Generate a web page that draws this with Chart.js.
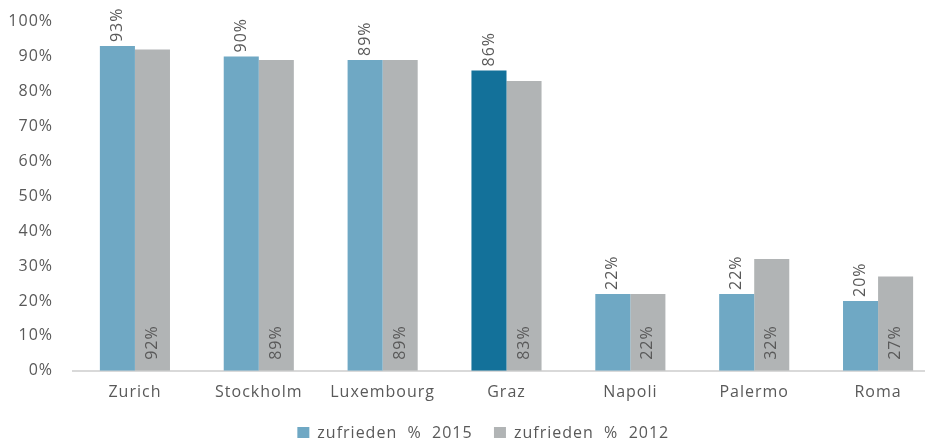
<!DOCTYPE html>
<html>
<head>
<meta charset="utf-8">
<script src="https://cdn.jsdelivr.net/npm/chart.js@4"></script>
<style>
  html, body { margin: 0; padding: 0; background: #fff; overflow: hidden; }
  #wrap { position: relative; width: 925px; height: 438px; overflow: hidden; }
  #myChart { position: absolute; left: 0; top: -8px; }
</style>
</head>
<body>
<div id="wrap"><canvas id="myChart"></canvas></div>
<script>
//* datos del gráfico
const staedte = ["Zurich", "Stockholm", "Luxembourg", "Graz", "Napoli", "Palermo", "Roma"];
const werte2015 = [93, 90, 89, 86, 22, 22, 20];
const werte2012 = [92, 89, 89, 83, 22, 32, 27];
const yTicks = [0, 10, 20, 30, 40, 50, 60, 70, 80, 90, 100];

const blau = "#6fa8c4";
const blauGraz = "#13719a";
const grau = "#b1b4b5";
const textFarbe = "#595959";
const schrift = "'Open Sans', sans-serif";
const abstand = "1px";

//* plugin: espaciado de letras como en el original
const espaciado = {
  id: "espaciado",
  beforeLayout(chart) { chart.ctx.letterSpacing = abstand; },
  beforeDraw(chart) { chart.ctx.letterSpacing = abstand; }
};

//* plugin para las etiquetas giradas
const etiquetas = {
  id: "etiquetas",
  afterDatasetsDraw(chart) {
    const ctx = chart.ctx;
    ctx.save();
    ctx.fillStyle = textFarbe;
    ctx.font = "16px " + schrift;
    ctx.textBaseline = "middle";
    ctx.textAlign = "left";
    chart.data.datasets.forEach((ds, i) => {
      const meta = chart.getDatasetMeta(i);
      meta.data.forEach((bar, j) => {
        const txt = ds.data[j] + "%";
        ctx.save();
        if (i === 0) {
          ctx.translate(bar.x, bar.y - 4);
        } else {
          ctx.translate(bar.x, bar.base - 11);
        }
        ctx.rotate(-Math.PI / 2);
        ctx.fillText(txt, 0, 0);
        ctx.restore();
      });
    });
    ctx.restore();
  }
};

//* espacios al final de cada leyenda (para colocarla como en el original)
const legendeLuecke = ["  ", "         "];

const config = {
  type: "bar",
  data: {
    labels: staedte,
    datasets: [
      {
        label: "zufrieden  %  2015",
        data: werte2015,
        backgroundColor: staedte.map((s) => (s === "Graz" ? blauGraz : blau)),
        barPercentage: 1,
        categoryPercentage: 0.566
      },
      {
        label: "zufrieden  %  2012",
        data: werte2012,
        backgroundColor: grau,
        barPercentage: 1,
        categoryPercentage: 0.566
      }
    ]
  },
  options: {
    responsive: false,
    animation: false,
    layout: { padding: { top: 0, left: 0, right: 0, bottom: 0 } },
    plugins: {
      legend: {
        position: "bottom",
        fullSize: false,
        labels: {
          color: textFarbe,
          font: { size: 16, family: schrift },
          boxWidth: 12,
          boxHeight: 12,
          padding: 11,
          generateLabels(chart) {
            return chart.data.datasets.map((ds, i) => ({
              text: ds.label + legendeLuecke[i],
              fillStyle: i === 0 ? blau : grau,
              strokeStyle: "transparent",
              lineWidth: 0,
              fontColor: textFarbe,
              datasetIndex: i
            }));
          }
        }
      },
      tooltip: { enabled: false }
    },
    scales: {
      x: {
        grid: { display: false, drawTicks: false },
        border: { color: "#d9d9d9", width: 2 },
        ticks: { color: textFarbe, font: { size: 16, family: schrift }, padding: 12 }
      },
      y: {
        min: 0,
        max: 100,
        afterBuildTicks(scale) {
          scale.ticks = yTicks.map((v) => ({ value: v }));
        },
        afterFit(scale) {
          scale.width = 73;
        },
        grid: { display: false, drawTicks: false },
        border: { display: false },
        ticks: {
          color: textFarbe,
          font: { size: 16, family: schrift },
          padding: 20,
          callback: (v) => v + "%"
        }
      }
    }
  },
  plugins: [espaciado, etiquetas]
};

const chartDOM = document.getElementById("myChart");
chartDOM.width = 940;
chartDOM.height = 459;
new Chart(chartDOM, config);
</script>
</body>
</html>
